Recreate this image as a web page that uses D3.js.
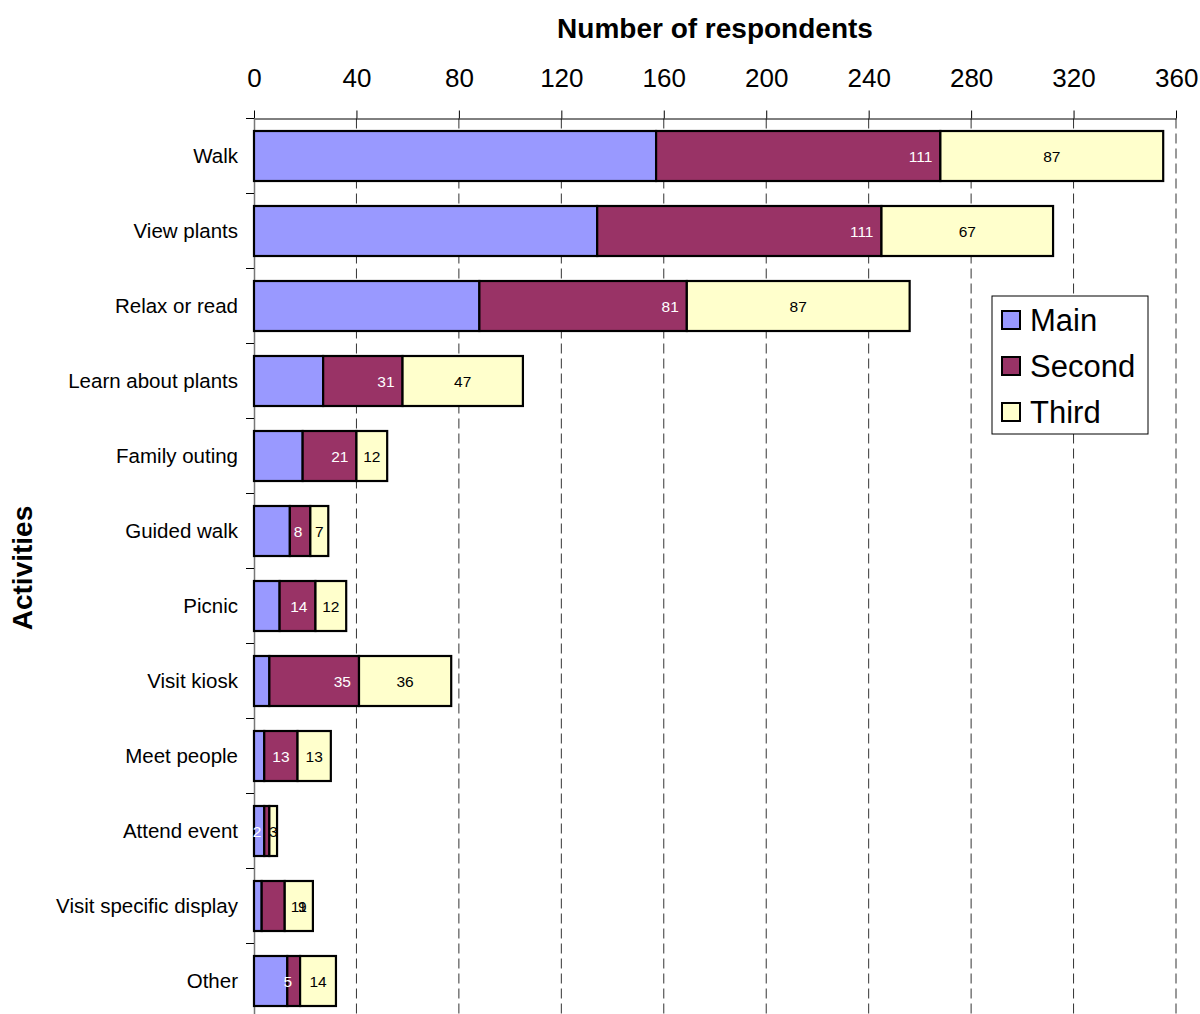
<!DOCTYPE html>
<html>
<head>
<meta charset="utf-8">
<script src="https://cdn.jsdelivr.net/npm/d3@7"></script>
<style>
  html, body { margin: 0; padding: 0; background: #fff; }
  svg { display: block; font-family: "Liberation Sans", Arial, sans-serif; }
</style>
</head>
<body>
<svg id="chart" width="1200" height="1014"></svg>
<script>
// Activities undertaken at the garden, by rank of importance
const categories = ["Walk", "View plants", "Relax or read", "Learn about plants", "Family outing",
  "Guided walk", "Picnic", "Visit kiosk", "Meet people", "Attend event",
  "Visit specific display", "Other"];
const mainValues   = [157, 134, 88, 27, 19, 14, 10, 6, 4, 4, 3, 13];
const secondValues = [111, 111, 81, 31, 21, 8, 14, 35, 13, 2, 9, 5];
const thirdValues  = [87, 67, 87, 47, 12, 7, 12, 36, 13, 3, 11, 14];
const seriesNames  = ["Main", "Second", "Third"];
const xTicks = [0, 40, 80, 120, 160, 200, 240, 280, 320, 360];
// categories whose "Second" label is pushed over into the "Third" segment
const secondLabelInThird = ["Visit specific display"];

const colors = { Main: "#9999FF", Second: "#993366", Third: "#FFFFCC" };

const svg = d3.select("#chart");
const plotLeft = 254, plotRight = 1176, plotTop = 118.5, plotBottom = 1018.5;

const x = d3.scaleLinear().domain([0, 360]).range([plotLeft, plotRight]);
const y = d3.scaleBand().domain(categories).range([plotTop, plotBottom])
  .paddingInner(1 / 3).paddingOuter(1 / 6);

const rows = categories.map((c, i) => ({
  category: c, Main: mainValues[i], Second: secondValues[i], Third: thirdValues[i]
}));
const stacked = d3.stack().keys(seriesNames)(rows);

// dashed vertical gridlines
svg.append("g").selectAll("line")
  .data(xTicks.filter(t => t > 0))
  .join("line")
  .attr("x1", d => x(d)).attr("x2", d => x(d))
  .attr("y1", plotTop).attr("y2", plotBottom)
  .attr("stroke", "#333").attr("stroke-width", 1)
  .attr("stroke-dasharray", "10,5");

// top value axis
const xAxis = svg.append("g").attr("transform", `translate(0,${plotTop})`)
  .call(d3.axisTop(x).tickValues(xTicks).tickSize(8).tickSizeOuter(0).tickPadding(24));
xAxis.select(".domain").attr("stroke", "#000");
xAxis.selectAll(".tick line").attr("stroke", "#000");
xAxis.selectAll(".tick text")
  .attr("font-size", 26).attr("fill", "#000")
  .attr("font-family", "Liberation Sans, Arial, sans-serif")
  .each(function (d) {
    if (d === 360) d3.select(this).attr("text-anchor", "end").attr("dx", 22);
  });

// left category axis
const yAxis = svg.append("g").attr("transform", `translate(${plotLeft},0)`)
  .call(d3.axisLeft(y).tickSize(0).tickPadding(16));
yAxis.select(".domain").attr("stroke", "#777").attr("stroke-width", 1.5);
yAxis.selectAll(".tick text")
  .attr("font-size", 20.5).attr("fill", "#000")
  .attr("font-family", "Liberation Sans, Arial, sans-serif");
// tick marks between categories
const boundaries = categories.map(c => y(c) - y.step() * y.paddingInner() / 2);
svg.append("g").selectAll("line")
  .data(boundaries)
  .join("line")
  .attr("x1", plotLeft - 8).attr("x2", plotLeft)
  .attr("y1", d => d).attr("y2", d => d)
  .attr("stroke", "#000");

// stacked bars
const barG = svg.append("g");
stacked.forEach(layer => {
  barG.append("g").selectAll("rect")
    .data(layer)
    .join("rect")
    .attr("x", d => x(d[0]))
    .attr("y", d => y(d.data.category))
    .attr("width", d => x(d[1]) - x(d[0]))
    .attr("height", y.bandwidth())
    .attr("fill", colors[layer.key])
    .attr("stroke", "#000").attr("stroke-width", 2.2);
});

// value labels
const labelG = svg.append("g")
  .attr("font-size", 15.5).attr("font-family", "Liberation Sans, Arial, sans-serif");
const secondLayer = stacked[1], thirdLayer = stacked[2];
secondLayer.forEach(d => {
  const cy = y(d.data.category) + y.bandwidth() / 2;
  const v = d[1] - d[0];
  if (secondLabelInThird.includes(d.data.category)) {
    const t = thirdLayer.find(e => e.data.category === d.data.category);
    labelG.append("text")
      .attr("x", (x(t[0]) + x(t[1])) / 2 + 3.5).attr("y", cy)
      .attr("dy", "0.36em").attr("text-anchor", "middle").attr("fill", "#000")
      .text(v);
  } else {
    labelG.append("text")
      .attr("x", x(d[1]) - 8).attr("y", cy)
      .attr("dy", "0.36em").attr("text-anchor", "end").attr("fill", "#fff")
      .text(v);
  }
});
thirdLayer.forEach(d => {
  const cy = y(d.data.category) + y.bandwidth() / 2;
  labelG.append("text")
    .attr("x", (x(d[0]) + x(d[1])) / 2).attr("y", cy)
    .attr("dy", "0.36em").attr("text-anchor", "middle").attr("fill", "#000")
    .text(d[1] - d[0]);
});

// axis titles
svg.append("text")
  .attr("x", (plotLeft + plotRight) / 2).attr("y", 38)
  .attr("text-anchor", "middle").attr("font-size", 28).attr("font-weight", "bold")
  .text("Number of respondents");
svg.append("text")
  .attr("transform", "translate(32,568) rotate(-90)")
  .attr("text-anchor", "middle").attr("font-size", 28).attr("font-weight", "bold")
  .text("Activities");

// legend
const legend = svg.append("g").attr("transform", "translate(992,296)");
legend.append("rect").attr("width", 156).attr("height", 138)
  .attr("fill", "#fff").attr("stroke", "#000").attr("stroke-width", 1);
seriesNames.forEach((name, i) => {
  const cy = 24 + i * 46;
  legend.append("rect")
    .attr("x", 10).attr("y", cy - 9).attr("width", 18).attr("height", 18)
    .attr("fill", colors[name]).attr("stroke", "#000").attr("stroke-width", 2);
  legend.append("text")
    .attr("x", 38).attr("y", cy).attr("dy", "0.36em")
    .attr("font-size", 31).attr("fill", "#000")
    .text(name);
});
</script>
</body>
</html>
